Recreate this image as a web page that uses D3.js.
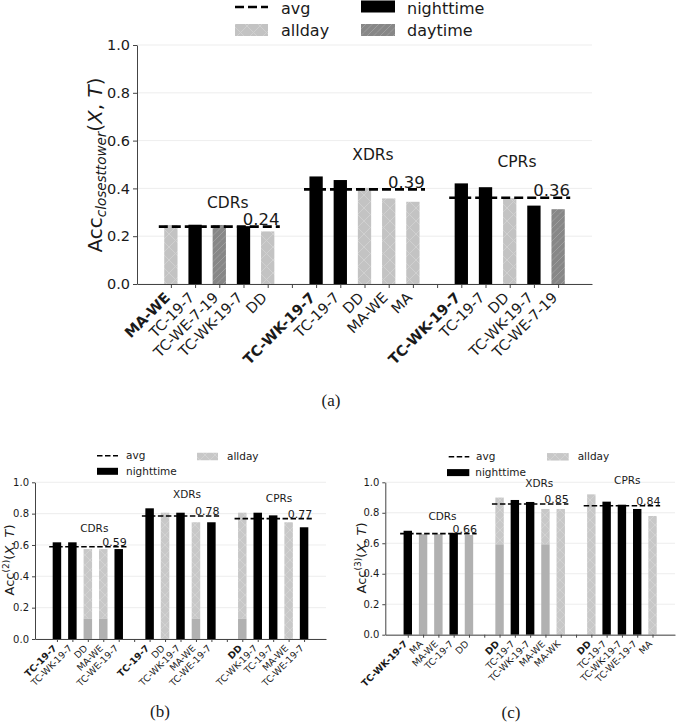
<!DOCTYPE html>
<html><head><meta charset="utf-8">
<script src="https://cdn.jsdelivr.net/npm/d3@7/dist/d3.min.js"></script>
<style>
html,body{margin:0;padding:0;background:#fff;}
svg{display:block;font-family:"DejaVu Sans",sans-serif;}
</style></head>
<body>
<svg id="chart" width="676" height="728"></svg>
<script>
// ---------------- DATA ----------------
const groupNames = ["CDRs", "XDRs", "CPRs"];
const yTicks = [0, 0.2, 0.4, 0.6, 0.8, 1.0];

// Panel (a): Acc_closesttower
const aLabels = [
  ["MA-WE", "TC-19-7", "TC-WE-7-19", "TC-WK-19-7", "DD"],
  ["TC-WK-19-7", "TC-19-7", "DD", "MA-WE", "MA"],
  ["TC-WK-19-7", "TC-19-7", "DD", "TC-WK-19-7", "TC-WE-7-19"]
];
const aValues = [
  [0.247, 0.248, 0.247, 0.242, 0.220],
  [0.450, 0.435, 0.402, 0.358, 0.344],
  [0.421, 0.405, 0.359, 0.328, 0.313]
];
const aKinds = [
  ["allday", "nighttime", "daytime", "nighttime", "allday"],
  ["nighttime", "nighttime", "allday", "allday", "allday"],
  ["nighttime", "nighttime", "allday", "nighttime", "daytime"]
];
const aLower = [[0,0,0,0,0],[0,0,0,0,0],[0,0,0,0,0]];
const aAvg = [0.240, 0.396, 0.361];
const aAvgText = ["0.24", "0.39", "0.36"];

// Panel (b): Acc^(2)
const bLabels = [
  ["TC-19-7", "TC-WK-19-7", "DD", "MA-WE", "TC-WE-19-7"],
  ["TC-19-7", "DD", "TC-WK-19-7", "MA-WE", "TC-WE-19-7"],
  ["DD", "TC-WK-19-7", "TC-19-7", "MA-WE", "TC-WE-19-7"]
];
const bValues = [
  [0.617, 0.617, 0.574, 0.574, 0.574],
  [0.834, 0.806, 0.806, 0.745, 0.745],
  [0.806, 0.806, 0.789, 0.745, 0.713]
];
const bKinds = [
  ["nighttime", "nighttime", "allday", "allday", "nighttime"],
  ["nighttime", "allday", "nighttime", "allday", "nighttime"],
  ["allday", "nighttime", "nighttime", "allday", "nighttime"]
];
const bLower = [
  [0, 0, 0.13, 0.13, 0],
  [0, 0, 0, 0.13, 0],
  [0.13, 0, 0, 0, 0]
];
const bAvg = [0.589, 0.785, 0.768];
const bAvgText = ["0.59", "0.78", "0.77"];

// Panel (c): Acc^(3)
const cLabels = [
  ["TC-WK-19-7", "MA", "MA-WE", "TC-19-7", "DD"],
  ["DD", "TC-19-7", "TC-WK-19-7", "MA-WE", "MA-WK"],
  ["DD", "TC-19-7", "TC-WK-19-7", "TC-WE-19-7", "MA"]
];
const cValues = [
  [0.682, 0.660, 0.660, 0.667, 0.654],
  [0.900, 0.884, 0.871, 0.825, 0.825],
  [0.921, 0.873, 0.853, 0.825, 0.779]
];
const cKinds = [
  ["nighttime", "allday", "allday", "nighttime", "allday"],
  ["allday", "nighttime", "nighttime", "allday", "allday"],
  ["allday", "nighttime", "nighttime", "nighttime", "allday"]
];
const cLower = [
  [0, 0.660, 0.660, 0, 0.654],
  [0.593, 0, 0, 0.593, 0],
  [0, 0, 0, 0, 0]
];
const cAvg = [0.663, 0.858, 0.846];
const cAvgText = ["0.66", "0.85", "0.84"];

// ---------------- DRAWING ----------------
const svg = d3.select("#chart");
const TXT = "#1a1a1a", SPINE = "#444", GRID = "#e8e8e8";
const defs = svg.append("defs");

function makeHatch(id, size, bg, fg, type, sw) {
  const p = defs.append("pattern").attr("id", id).attr("patternUnits", "userSpaceOnUse")
    .attr("width", size).attr("height", size);
  p.append("rect").attr("width", size).attr("height", size).attr("fill", bg);
  if (type === "x") {
    p.append("path").attr("d", `M0,0L${size},${size}M${size},0L0,${size}`)
      .attr("stroke", fg).attr("stroke-width", sw).attr("fill", "none");
  } else {
    const h = size / 2;
    p.append("path").attr("d", `M0,${h}L${h},0M0,${size}L${size},0M${h},${size}L${size},${h}`)
      .attr("stroke", fg).attr("stroke-width", sw).attr("fill", "none");
  }
}
makeHatch("allA", 13, "#c3c3c3", "#d0d0d0", "x", 1);
makeHatch("dayA", 13, "#878787", "#9e9e9e", "/", 1);
makeHatch("allS", 10, "#c8c8c8", "#d6d6d6", "x", 0.8);

function drawPanel(cfg, labels, values, kinds, lower, avg, avgText) {
  const g = svg.append("g");
  const x = d3.scaleLinear().domain(cfg.dom).range([cfg.left, cfg.right]);
  const y = d3.scaleLinear().domain([0, 1]).range([cfg.y0, cfg.y1]);
  const slot = (gi, i) => gi * 6 + i;

  // grid
  g.append("g").selectAll("line").data(yTicks).join("line")
    .attr("x1", cfg.left).attr("x2", cfg.right)
    .attr("y1", d => y(d)).attr("y2", d => y(d))
    .attr("stroke", GRID).attr("stroke-width", 0.8);

  // bars
  const bars = [];
  labels.forEach((grp, gi) => grp.forEach((lab, i) => bars.push({
    s: slot(gi, i), v: values[gi][i], k: kinds[gi][i], lo: lower[gi][i]
  })));
  const bw = (x(1) - x(0)) * cfg.barW;
  const bg = g.append("g");
  bars.forEach(b => {
    const x0 = x(b.s) - bw / 2;
    if (b.k === "nighttime") {
      bg.append("rect").attr("x", x0).attr("width", bw).attr("y", y(b.v)).attr("height", y(0) - y(b.v)).attr("fill", "#000");
    } else if (b.k === "daytime") {
      bg.append("rect").attr("x", x0).attr("width", bw).attr("y", y(b.v)).attr("height", y(0) - y(b.v)).attr("fill", "url(#dayA)");
    } else {
      const lo = Math.min(b.lo, b.v);
      if (b.v > lo) bg.append("rect").attr("x", x0).attr("width", bw).attr("y", y(b.v)).attr("height", y(lo) - y(b.v)).attr("fill", cfg.allPat);
      if (lo > 0) bg.append("rect").attr("x", x0).attr("width", bw).attr("y", y(lo)).attr("height", y(0) - y(lo)).attr("fill", "#b1b1b1");
    }
  });

  // avg lines, group labels, avg labels
  groupNames.forEach((name, gi) => {
    const s0 = slot(gi, 0), s1 = slot(gi, 4);
    g.append("line").attr("x1", x(s0 - 0.5)).attr("x2", x(s1 + 0.5))
      .attr("y1", y(avg[gi])).attr("y2", y(avg[gi]))
      .attr("stroke", "#000").attr("stroke-width", cfg.dashW).attr("stroke-dasharray", cfg.dash);
    const mx = d3.max(values[gi]);
    g.append("text").attr("x", x(slot(gi, 2) + cfg.grpOff[gi])).attr("y", y(mx + 0.093)).attr("dy", "0.36em")
      .attr("text-anchor", "middle").attr("font-size", cfg.fs.grp).attr("fill", TXT).text(name);
    g.append("text").attr("x", x(s1 - 0.27)).attr("y", y(avg[gi] + 0.032)).attr("dy", "0.36em")
      .attr("text-anchor", "middle").attr("font-size", cfg.fs.avg).attr("fill", TXT).text(avgText[gi]);
  });

  // y axis
  const ya = g.append("g").attr("transform", `translate(${cfg.left},0)`)
    .call(d3.axisLeft(y).tickValues(yTicks).tickFormat(d3.format(".1f")).tickSize(cfg.tickLen).tickSizeOuter(0).tickPadding(3));
  ya.select(".domain").attr("stroke", SPINE).attr("stroke-width", 1);
  ya.selectAll(".tick line").attr("stroke", SPINE);
  ya.selectAll(".tick text").attr("font-size", cfg.fs.tick).attr("fill", TXT).attr("font-family", "DejaVu Sans");

  // x axis
  const labelMap = {}, boldMap = {};
  labels.forEach((grp, gi) => grp.forEach((lab, i) => { labelMap[slot(gi, i)] = lab; boldMap[slot(gi, i)] = i === 0; }));
  const xa = g.append("g").attr("transform", `translate(0,${cfg.y0})`)
    .call(d3.axisBottom(x).tickValues(d3.range(17)).tickFormat(d => labelMap[d] || "").tickSize(cfg.tickLen).tickSizeOuter(0));
  xa.select(".domain").attr("stroke", SPINE).attr("stroke-width", 1);
  xa.selectAll(".tick line").attr("stroke", SPINE);
  xa.selectAll(".tick text")
    .attr("x", 0).attr("y", 0).attr("dy", "0.35em")
    .attr("transform", `translate(${cfg.xlabOff[0]},${cfg.xlabOff[1]}) rotate(-45)`)
    .style("text-anchor", "end")
    .attr("font-size", cfg.fs.xlab).attr("fill", TXT).attr("font-family", "DejaVu Sans")
    .attr("font-weight", d => boldMap[d] ? "bold" : "normal");
  return g;
}

// Panel (a)
drawPanel({left: 137, right: 592, y0: 284, y1: 45, dom: [-1.4, 17.4], barW: 0.55,
  tickLen: 4, dashW: 2.6, dash: "9,4", allPat: "url(#allA)",
  grpOff: [0.35, 0.35, 0.3], xlabOff: [-4, 11],
  fs: {tick: 14.5, xlab: 14.5, grp: 15.5, avg: 16.5}},
  aLabels, aValues, aKinds, aLower, aAvg, aAvgText);

// Panel (b)
drawPanel({left: 35, right: 326, y0: 639, y1: 482.3, dom: [-1.42, 17.42], barW: 0.55,
  tickLen: 3, dashW: 1.6, dash: "5.5,2.5", allPat: "url(#allS)",
  grpOff: [0.42, 0.42, 0.38], xlabOff: [-2.5, 7.5],
  fs: {tick: 10, xlab: 9.3, grp: 10.5, avg: 11}},
  bLabels, bValues, bKinds, bLower, bAvg, bAvgText);

// Panel (c)
drawPanel({left: 385.3, right: 675, y0: 634.7, y1: 482.3, dom: [-1.47, 17.47], barW: 0.55,
  tickLen: 3, dashW: 1.6, dash: "5.5,2.5", allPat: "url(#allS)",
  grpOff: [0.27, 0.6, 0.35], xlabOff: [-2.5, 7.5],
  fs: {tick: 10, xlab: 9.3, grp: 10.5, avg: 11}},
  cLabels, cValues, cKinds, cLower, cAvg, cAvgText);

// ---------------- Y LABELS ----------------
function yLabel(cx, cy, size, parts) {
  const t = svg.append("text").attr("transform", `translate(${cx},${cy}) rotate(-90)`)
    .attr("text-anchor", "middle").attr("font-size", size).attr("fill", TXT);
  parts.forEach(p => {
    const s = t.append("tspan").text(p.t);
    if (p.it) s.attr("font-style", "italic");
    if (p.fs) s.attr("font-size", p.fs);
    if (p.dy) s.attr("dy", p.dy);
  });
}
yLabel(102, 165, 20, [
  {t: "Acc"}, {t: "closesttower", it: true, fs: 13.5, dy: 4},
  {t: "(", dy: -4}, {t: "X", it: true}, {t: ", "}, {t: "T", it: true}, {t: ")"}
]);
yLabel(14, 560, 13, [
  {t: "Acc"}, {t: "(2)", fs: 9, dy: -5}, {t: "(", dy: 5}, {t: "X", it: true}, {t: ", "}, {t: "T", it: true}, {t: ")"}
]);
yLabel(366, 558, 13, [
  {t: "Acc"}, {t: "(3)", fs: 9, dy: -5}, {t: "(", dy: 5}, {t: "X", it: true}, {t: ", "}, {t: "T", it: true}, {t: ")"}
]);

// ---------------- LEGENDS ----------------
function legend(items, fs) {
  items.forEach(it => {
    if (it.type === "line") {
      svg.append("line").attr("x1", it.x0).attr("x2", it.x1).attr("y1", it.cy).attr("y2", it.cy)
        .attr("stroke", "#000").attr("stroke-width", it.sw).attr("stroke-dasharray", it.dash);
    } else {
      svg.append("rect").attr("x", it.x0).attr("width", it.x1 - it.x0)
        .attr("y", it.cy - it.h / 2).attr("height", it.h).attr("fill", it.fill);
    }
    svg.append("text").attr("x", it.tx).attr("y", it.ty !== undefined ? it.ty : it.cy).attr("dy", "0.35em")
      .attr("font-size", fs).attr("fill", TXT).text(it.label);
  });
}
legend([
  {type: "line", x0: 235, x1: 268, cy: 7, ty: 8.5, sw: 2.6, dash: "9,4", tx: 281, label: "avg"},
  {type: "rect", x0: 235, x1: 268, cy: 30, h: 12, fill: "url(#allA)", tx: 281, label: "allday"},
  {type: "rect", x0: 361, x1: 395, cy: 6.5, ty: 8.5, h: 12, fill: "#000", tx: 407, label: "nighttime"},
  {type: "rect", x0: 361, x1: 395, cy: 30, h: 12, fill: "url(#dayA)", tx: 407, label: "daytime"}
], 16);
legend([
  {type: "line", x0: 97, x1: 118, cy: 455.7, sw: 1.6, dash: "5.5,2.5", tx: 126, label: "avg"},
  {type: "rect", x0: 197, x1: 218, cy: 456.5, h: 7.5, fill: "url(#allS)", tx: 227, label: "allday"},
  {type: "rect", x0: 97, x1: 118, cy: 471.3, h: 7, fill: "#000", tx: 126, label: "nighttime"}
], 10.5);
legend([
  {type: "line", x0: 448.7, x1: 469.3, cy: 456.7, sw: 1.6, dash: "5.5,2.5", tx: 476, label: "avg"},
  {type: "rect", x0: 547, x1: 568.7, cy: 456.8, h: 7.5, fill: "url(#allS)", tx: 577.7, label: "allday"},
  {type: "rect", x0: 447, x1: 469.3, cy: 472.6, h: 7, fill: "#000", tx: 475.3, label: "nighttime"}
], 10.5);

// ---------------- CAPTIONS ----------------
[["(a)", 331, 400], ["(b)", 160, 711], ["(c)", 511, 712]].forEach(([t, cx, cy]) => {
  svg.append("text").attr("x", cx).attr("y", cy).attr("dy", "0.35em").attr("text-anchor", "middle")
    .attr("font-family", "Liberation Serif, DejaVu Serif, serif").attr("font-size", 17).attr("fill", TXT).text(t);
});
</script>
</body></html>
